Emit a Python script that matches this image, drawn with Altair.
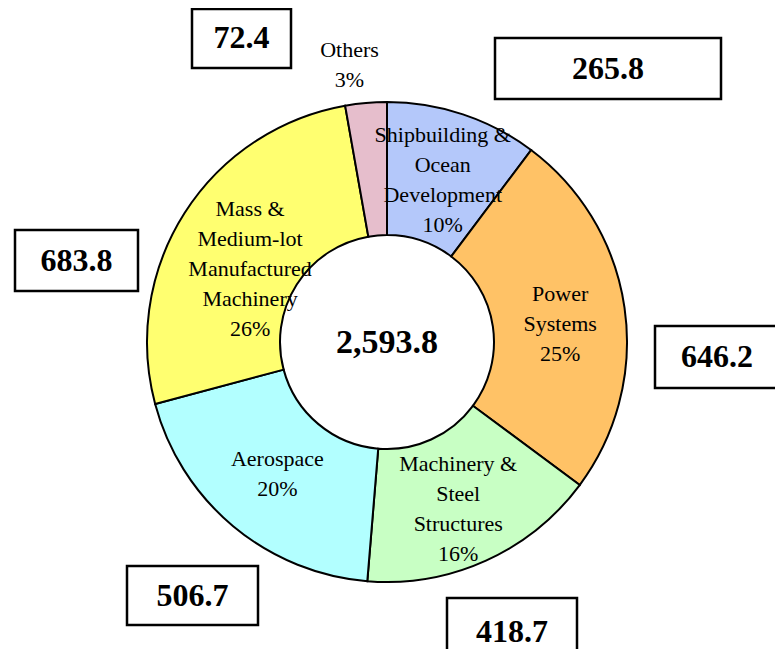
import math
import altair as alt
import pandas as pd

# ---------------- data ----------------
segments = [
    "Shipbuilding & Ocean Development",
    "Power Systems",
    "Machinery & Steel Structures",
    "Aerospace",
    "Mass & Medium-lot Manufactured Machinery",
    "Others",
]
label_lines = [
    ["Shipbuilding &", "Ocean", "Development"],
    ["Power", "Systems"],
    ["Machinery &", "Steel", "Structures"],
    ["Aerospace"],
    ["Mass &", "Medium-lot", "Manufactured", "Machinery"],
    ["Others"],
]
values = [265.8, 646.2, 418.7, 506.7, 683.8, 72.4]
value_labels = ["265.8", "646.2", "418.7", "506.7", "683.8", "72.4"]
total_label = "2,593.8"

# ---------------- style / layout ----------------
colors = ["#B4C8FA", "#FFC266", "#C8FFC4", "#B2FFFF", "#FFFF70", "#E6BECC"]
W, H = 767, 641
CX, CY = 379, 334          # donut centre (chart coords)
R_OUT, R_IN = 240, 107
LINE_H = 30
label_r = [173, 174, 180, 171, 160, 280]
label_nudge = [(1, 2), (1, 7), (-3, 3), (0, 1), (-2, 13), (-13, 2)]
# value boxes (page coords x0, y0, x1, y1) and text centre y
boxes = [
    (495, 38, 721, 99, 69),
    (655, 326, 779, 388, 357),
    (447, 598, 577, 672, 632),
    (127, 566, 258, 625, 596),
    (15, 230, 138, 291, 261),
    (192, 9, 291, 68, 38),
]
SERIF = "Liberation Serif"

total = sum(values)
rows = []
cum = 0.0
for i, (s, v) in enumerate(zip(segments, values)):
    mid = (cum + v / 2) / total * 2 * math.pi
    cum += v
    pct = f"{round(v / total * 100):d}%"
    lines = label_lines[i] + [pct]
    r = label_r[i]
    dx, dy = label_nudge[i]
    bx0, by0, bx1, by1, ty = boxes[i]
    rows.append({
        "segment": s,
        "value": v,
        "order": i,
        "label": lines,
        "lx": CX + r * math.sin(mid) + dx,
        "ly": CY - r * math.cos(mid) + dy - (len(lines) - 1) * LINE_H / 2,
        "bx0": bx0 - 8, "bx1": bx1 - 8, "by0": by0 - 8, "by1": by1 - 8,
        "tx": (bx0 + bx1) / 2 - 8, "ty": ty - 8,
        "vlabel": value_labels[i],
    })
df = pd.DataFrame(rows)

arcs = alt.Chart(df).mark_arc(
    outerRadius=R_OUT, innerRadius=R_IN, stroke="black", strokeWidth=2
).encode(
    theta=alt.Theta("value:Q", stack=True),
    color=alt.Color("segment:N", scale=alt.Scale(domain=segments, range=colors), legend=None),
    order=alt.Order("order:Q"),
    x=alt.value(CX),
    y=alt.value(CY),
)

labels = alt.Chart(df).mark_text(
    font=SERIF, fontSize=22, lineHeight=LINE_H, color="black", align="center", baseline="middle"
).encode(
    x=alt.X("lx:Q", scale=None),
    y=alt.Y("ly:Q", scale=None),
    text="label",
)

rects = alt.Chart(df).mark_rect(fill="white", stroke="black", strokeWidth=2.5).encode(
    x=alt.X("bx0:Q", scale=None),
    x2="bx1:Q",
    y=alt.Y("by0:Q", scale=None),
    y2="by1:Q",
)

vtext = alt.Chart(df).mark_text(
    font=SERIF, fontSize=32, fontWeight="bold", color="black", align="center", baseline="middle"
).encode(
    x=alt.X("tx:Q", scale=None),
    y=alt.Y("ty:Q", scale=None),
    text="vlabel:N",
)

center = alt.Chart(pd.DataFrame({"t": [total_label]})).mark_text(
    font=SERIF, fontSize=34, fontWeight="bold", color="black", align="center", baseline="middle"
).encode(x=alt.value(CX), y=alt.value(CY + 1), text="t:N")

chart = alt.layer(arcs, labels, rects, vtext, center).properties(
    width=W, height=H, autosize=alt.AutoSizeParams(type="none"), padding=0
).configure_view(stroke=None)

chart.save("out.html", embed_options={"renderer": "svg", "actions": False})
